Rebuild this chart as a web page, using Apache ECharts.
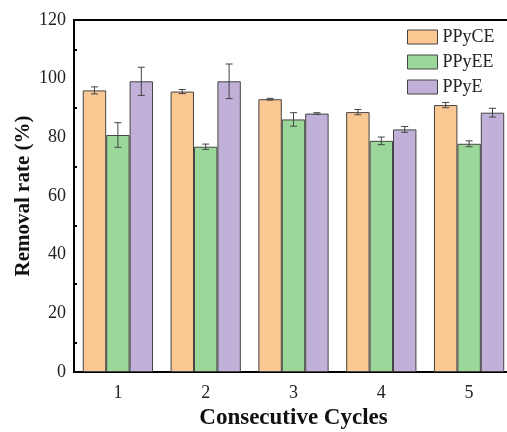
<!DOCTYPE html>
<html>
<head>
<meta charset="utf-8">
<script src="https://cdn.jsdelivr.net/npm/echarts@6/dist/echarts.min.js"></script>
<style>
  html, body { margin: 0; padding: 0; background: #fff; }
  #chart { width: 507px; height: 432px; }
</style>
</head>
<body>
<div id="chart"></div>
<script>
// Removal rate over consecutive reuse cycles
const cycles = ['1', '2', '3', '4', '5'];
const seriesNames = ['PPyCE', 'PPyEE', 'PPyE'];
const ppyce = [96.0, 95.6, 93.0, 88.6, 91.0];
const ppyceErr = [1.2, 0.7, 0.3, 0.9, 0.9];
const ppyee = [80.8, 76.8, 86.1, 78.8, 77.8];
const ppyeeErr = [4.2, 0.9, 2.3, 1.3, 1.0];
const ppye = [99.1, 99.1, 88.1, 82.7, 88.4];
const ppyeErr = [4.8, 5.9, 0.3, 1.0, 1.5];
const yTicks = [0, 20, 40, 60, 80, 100, 120];

const colors = ['#FBC793', '#9CD79A', '#C1B0D8'];
const values = [ppyce, ppyee, ppye];
const errors = [ppyceErr, ppyeeErr, ppyeErr];
const FONT = '"Liberation Serif", "Times New Roman", serif';
const CATEGORY_GAP = 0.2;

const chart = echarts.init(document.getElementById('chart'));

// Error bars drawn on top of each bar, offset to its slot in the group
function errorSeries(idx) {
  return {
    type: 'custom',
    xAxisIndex: 0,
    yAxisIndex: 0,
    z: 10,
    silent: true,
    data: values[idx].map((v, i) => [i, v, errors[idx][i]]),
    renderItem: function (params, api) {
      const band = api.size([1, 0])[0];
      const barW = band * (1 - CATEGORY_GAP) / 3;
      const center = api.coord([api.value(0), api.value(1)]);
      const x = center[0] + (idx - 1) * barW;
      const hi = api.coord([api.value(0), api.value(1) + api.value(2)])[1];
      const lo = api.coord([api.value(0), api.value(1) - api.value(2)])[1];
      const cap = 3.5;
      const style = { stroke: '#444', lineWidth: 1, fill: null };
      return {
        type: 'group',
        children: [
          { type: 'line', shape: { x1: x, y1: hi, x2: x, y2: lo }, style: style },
          { type: 'line', shape: { x1: x - cap, y1: hi, x2: x + cap, y2: hi }, style: style },
          { type: 'line', shape: { x1: x - cap, y1: lo, x2: x + cap, y2: lo }, style: style }
        ]
      };
    }
  };
}

const barSeries = seriesNames.map((name, idx) => ({
  name: name,
  type: 'bar',
  xAxisIndex: 0,
  yAxisIndex: 0,
  data: values[idx],
  barGap: '0%',
  barCategoryGap: (CATEGORY_GAP * 100) + '%',
  itemStyle: { color: colors[idx], borderColor: '#444', borderWidth: 1 }
}));

chart.setOption({
  animation: false,
  backgroundColor: '#fff',
  grid: {
    left: 74, right: -6, top: 20, bottom: 60,
    outerBoundsMode: 'none',
    containLabel: false,
    show: true, borderColor: '#000', borderWidth: 2, backgroundColor: 'transparent'
  },
  legend: {
    orient: 'vertical',
    left: 407, top: 28,
    padding: 0,
    itemWidth: 30, itemHeight: 14, itemGap: 7,
    icon: 'rect',
    data: seriesNames,
    textStyle: { fontFamily: FONT, fontSize: 18, color: '#222', padding: [0, 0, 0, 0] },
    itemStyle: { borderColor: '#444', borderWidth: 1 }
  },
  xAxis: [{
    type: 'category',
    data: cycles,
    name: 'Consecutive Cycles',
    nameLocation: 'middle',
    nameGap: 35,
    nameTextStyle: { fontFamily: FONT, fontSize: 23, fontWeight: 'bold', color: '#111' },
    axisLine: { lineStyle: { color: '#000', width: 2 } },
    axisTick: { inside: true, alignWithLabel: true, length: 6, lineStyle: { color: '#000', width: 2 } },
    axisLabel: { fontFamily: FONT, fontSize: 18, color: '#222', margin: 12 },
    splitLine: { show: false }
  }, {
    // short ticks at the category boundaries
    type: 'category',
    data: cycles,
    position: 'bottom',
    axisLine: { show: false },
    axisTick: { inside: true, length: 3, lineStyle: { color: '#000', width: 2 } },
    axisLabel: { show: false },
    splitLine: { show: false }
  }],
  yAxis: {
    type: 'value',
    min: yTicks[0], max: yTicks[yTicks.length - 1], interval: 20,
    name: 'Removal rate (%)',
    nameLocation: 'middle',
    nameGap: 40,
    nameMoveOverlap: false,
    nameTextStyle: { fontFamily: FONT, fontSize: 21, fontWeight: 'bold', color: '#111' },
    axisLine: { show: true, lineStyle: { color: '#000', width: 2 } },
    axisTick: { inside: true, length: 6, lineStyle: { color: '#000', width: 2 } },
    minorTick: { show: true, splitNumber: 2, length: 3, lineStyle: { color: '#000', width: 2 } },
    axisLabel: { fontFamily: FONT, fontSize: 18, color: '#222', margin: 8 },
    splitLine: { show: false }
  },
  series: barSeries.concat([errorSeries(0), errorSeries(1), errorSeries(2)])
});
</script>
</body>
</html>
